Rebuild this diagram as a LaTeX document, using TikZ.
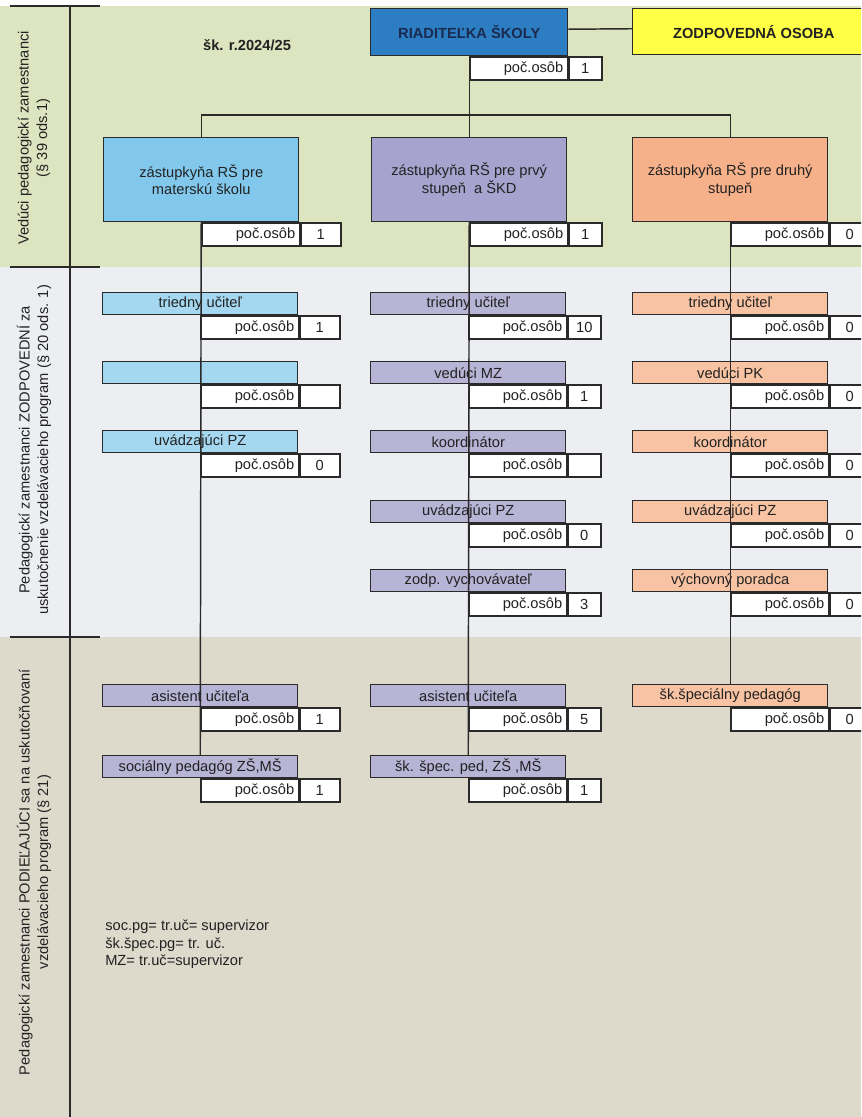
\documentclass[tikz,border=0pt]{standalone}
\usepackage{fontspec}
\setmainfont{Liberation Sans}
\definecolor{topband}{HTML}{DDE4C0}
\definecolor{midband}{HTML}{ECEEF2}
\definecolor{botband}{HTML}{DDD9CB}
\definecolor{edge}{HTML}{2A2A2A}
\definecolor{txt}{HTML}{222222}
\definecolor{dirblue}{HTML}{2D7DC2}
\definecolor{dirtext}{HTML}{1A2A50}
\definecolor{zodyel}{HTML}{FFFF45}
\definecolor{mblue}{HTML}{82C8EC}
\definecolor{sblue}{HTML}{A5D8F0}
\definecolor{mlav}{HTML}{A7A3CF}
\definecolor{slav}{HTML}{B7B4D6}
\definecolor{msal}{HTML}{F7B18A}
\definecolor{ssal}{HTML}{F8C3A2}
\newcommand\orgentry[8]{% style, name, x, y, fill, text, numwidth, number
  \node[#1, fill=#5] (#2) at (#3,#4) {#6};
  \node[cntlab] (#2l) at (#2.south) {poč.osôb};
  \node[cntnum, minimum width=#7] (#2n) at (#2l.east) {#8};
}
\begin{document}
\begin{tikzpicture}[x=0.75pt,y=-0.75pt,
  every node/.style={font=\fontsize{11}{13}\selectfont, text=txt},
  ln/.style={draw=edge, line width=1.1pt},
  mainbox/.style={draw=edge, line width=1.1pt, anchor=north west, minimum width=146.25pt, minimum height=63pt, align=center, inner sep=2pt},
  smallbox/.style={draw=edge, line width=1.1pt, anchor=north west, minimum width=146.25pt, minimum height=16.5pt, inner sep=1pt},
  cntlab/.style={draw=edge, fill=white, line width=1.1pt, anchor=north west, text width=67pt, align=right, minimum height=17.25pt, inner xsep=3pt, inner ysep=0pt},
  cntnum/.style={draw=edge, fill=white, line width=1.1pt, anchor=west, minimum height=17.25pt, inner sep=0pt},
  bandlab/.style={rotate=90, align=center, font=\fontsize{11}{14}\selectfont, text=txt},
]
\useasboundingbox (0,0) rectangle (861,1117);
\clip (0,0) rectangle (861,1117);
\fill[white] (0,0) rectangle (861,1117);
% bands
\fill[topband] (0,6) rectangle (861,267);
\fill[midband] (0,267) rectangle (861,637);
\fill[botband] (0,637) rectangle (861,1117);
\draw[ln] (70,6) -- (70,1117);
\draw[ln] (10,6) -- (100,6);
\draw[ln] (10,267) -- (100,267);
\draw[ln] (10,637) -- (100,637);
% band labels
\node[bandlab] (lab1) at (34,138) {Vedúci pedagogickí zamestnanci\\(§ 39 ods.1)};
\node[bandlab] (lab2) at (34,450) {Pedagogickí zamestnanci ZODPOVEDNÍ za\\uskutočnenie vzdelávacieho program (§ 20 ods. 1)};
\node[bandlab] (lab3) at (34,872) {Pedagogickí zamestnanci PODIEĽAJÚCI sa na uskutočňovaní\\vzdelávacieho program (§ 21)};
% header
\node[font=\bfseries\fontsize{11}{13}\selectfont] (year) at (247,45) {šk. r.2024/25};
\orgentry{mainbox, minimum width=147.75pt, minimum height=35.25pt, font=\bfseries\fontsize{11}{13}\selectfont, text=dirtext}{dir}{370}{8}{dirblue}{RIADITEĽKA ŠKOLY}{24.75pt}{1}
\node[draw=edge, line width=1.1pt, anchor=north west, fill=zodyel, minimum width=181.5pt, minimum height=34.5pt, font=\bfseries\fontsize{11}{13}\selectfont] (zod) at (632,8) {ZODPOVEDNÁ OSOBA};
\draw[ln] ([yshift=2.25pt]dir.east) -- ([yshift=2.25pt]zod.west);
% main boxes
\orgentry{mainbox}{m1}{103}{137}{mblue}{zástupkyňa RŠ pre\\materskú školu}{30pt}{1}
\orgentry{mainbox}{m2}{371}{137}{mlav}{zástupkyňa RŠ pre prvý\\stupeň\ \ a ŠKD}{24.75pt}{1}
\orgentry{mainbox}{m3}{632}{137}{msal}{zástupkyňa RŠ pre druhý\\stupeň}{30pt}{0}
% bus
\coordinate (bus) at (470,115);
\draw[ln] (dir.south) -- (dir.south |- bus);
\draw[ln] (m1.north) -- (m1.north |- bus) -- (m3.north |- bus) -- (m3.north);
\draw[ln] (m2.north) -- (m2.north |- bus);
% left column
\orgentry{smallbox}{a1}{102}{292}{sblue}{triedny učiteľ}{30pt}{1}
\orgentry{smallbox}{a2}{102}{361}{sblue}{}{30pt}{}
\orgentry{smallbox}{a3}{102}{430}{sblue}{uvádzajúci PZ}{30pt}{0}
\orgentry{smallbox}{a4}{102}{684}{slav}{asistent učiteľa}{30pt}{1}
\orgentry{smallbox}{a5}{102}{755}{slav}{sociálny pedagóg ZŠ,MŠ}{30pt}{1}
% middle column
\orgentry{smallbox}{b1}{370}{292}{slav}{triedny učiteľ}{24.75pt}{10}
\orgentry{smallbox}{b2}{370}{361}{slav}{vedúci MZ}{24.75pt}{1}
\orgentry{smallbox}{b3}{370}{430}{slav}{koordinátor}{24.75pt}{}
\orgentry{smallbox}{b4}{370}{500}{slav}{uvádzajúci PZ}{24.75pt}{0}
\orgentry{smallbox}{b5}{370}{569}{slav}{zodp. vychovávateľ}{24.75pt}{3}
\orgentry{smallbox}{b6}{370}{684}{slav}{asistent učiteľa}{24.75pt}{5}
\orgentry{smallbox}{b7}{370}{755}{slav}{šk. špec. ped, ZŠ ,MŠ}{24.75pt}{1}
% right column
\orgentry{smallbox}{c1}{632}{292}{ssal}{triedny učiteľ}{30pt}{0}
\orgentry{smallbox}{c2}{632}{361}{ssal}{vedúci PK}{30pt}{0}
\orgentry{smallbox}{c3}{632}{430}{ssal}{koordinátor}{30pt}{0}
\orgentry{smallbox}{c4}{632}{500}{ssal}{uvádzajúci PZ}{30pt}{0}
\orgentry{smallbox}{c5}{632}{569}{ssal}{výchovný poradca}{30pt}{0}
\orgentry{smallbox}{c6}{632}{684}{ssal}{šk.špeciálny pedagóg}{30pt}{0}
% column connectors
\draw[ln] (m1.south) -- (a5.north);
\draw[ln] (m2.south) -- (b7.north);
\draw[ln] (m3.south) -- (c6.north);
% notes
\node[anchor=north west, align=left, inner sep=0pt, font=\fontsize{11}{13}\selectfont] (notes) at (105,920) {soc.pg= tr.uč= supervizor\\šk.špec.pg= tr. uč.\\MZ= tr.uč=supervizor};
\end{tikzpicture}
\end{document}
